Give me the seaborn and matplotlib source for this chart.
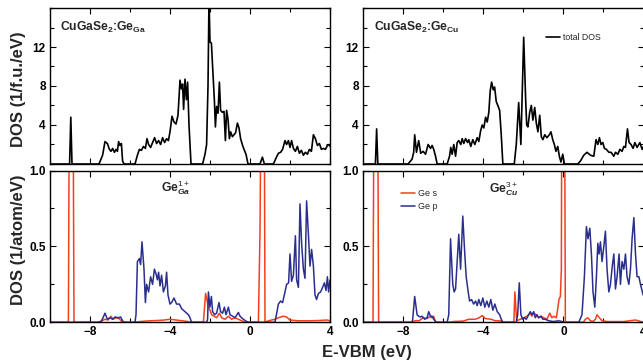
import numpy as np
import pandas as pd
import matplotlib
matplotlib.use("Agg")
import matplotlib.pyplot as plt
from matplotlib.ticker import MultipleLocator, FormatStrFormatter
import seaborn as sns

# total DOS, CuGaSe2:Ge_Ga (1/f.u./eV)
ga_tot_e = [-10.0, -9.02, -8.96, -8.9, -7.55, -7.45, -7.37, -7.25, -7.13, -7.03, -6.95, -6.87, -6.78,
            -6.7, -6.63, -6.57, -6.5, -6.43, -6.37, -6.3, -5.75, -5.63, -5.53, -5.43, -5.33, -5.23,
            -5.15, -5.07, -4.97, -4.87, -4.77, -4.67, -4.57, -4.47, -4.37, -4.27, -4.17, -4.08, -4.0,
            -3.9, -3.8, -3.7, -3.6, -3.5, -3.43, -3.37, -3.32, -3.25, -3.18, -3.12, -3.05, -2.95,
            -2.37, -2.25, -2.17, -2.1, -2.05, -2.0, -1.93, -1.87, -1.78, -1.73, -1.67, -1.6, -1.53,
            -1.47, -1.38, -1.3, -1.23, -1.17, -1.1, -1.03, -0.97, -0.88, -0.8, -0.72, -0.63, -0.55,
            -0.47, -0.37, -0.28, -0.2, -0.1, 0.5, 0.62, 0.72, 1.17, 1.3, 1.42, 1.53, 1.63, 1.75, 1.83,
            1.92, 2.0, 2.08, 2.17, 2.27, 2.37, 2.47, 2.57, 2.67, 2.77, 2.87, 2.97, 3.07, 3.17, 3.27,
            3.37, 3.47, 3.57, 3.67, 3.77, 3.87, 3.97, 4.0]
ga_tot_dos = [0, 0, 4.8, 0, 0, 0.5, 0.9, 2.3, 2.1, 1.5, 1.3, 1.6, 1.2,
              1.5, 1.3, 2.3, 1.9, 2.1, 0.3, 0, 0, 0.9, 1.5, 1.4, 1.8, 1.6,
              2.6, 2.0, 1.7, 2.2, 2.7, 2.1, 2.4, 2.0, 2.7, 2.2, 2.6, 2.4, 3.3,
              4.9, 4.3, 4.1, 5.0, 8.6, 7.7, 8.2, 5.6, 8.7, 6.6, 8.4, 4.0, 0,
              0, 1.0, 2.0, 8.0, 17.0, 12.5, 12.4, 10.0, 6.5, 3.8, 5.9, 5.2, 8.4,
              5.5, 5.3, 5.4, 2.4, 5.5, 4.6, 2.6, 3.3, 2.8, 3.0, 3.2, 4.2, 3.7,
              2.6, 1.9, 1.4, 1.0, 0, 0, 0.7, 0, 0, 0.6, 1.1, 1.2, 1.5, 2.4, 2.0,
              2.4, 1.7, 2.4, 1.6, 1.3, 1.8, 1.1, 1.4, 0.9, 1.2, 1.0, 1.5, 1.3, 3.0, 2.6,
              1.9, 2.1, 1.5, 1.6, 1.5, 1.9, 2.0, 1.8]

# total DOS, CuGaSe2:Ge_Cu (1/f.u./eV)
cu_tot_e = [-10.0, -9.38, -9.32, -9.26, -7.75, -7.55, -7.47, -7.42, -7.33, -7.22, -7.12, -7.0, -6.88,
            -6.75, -6.63, -6.55, -6.47, -6.38, -6.3, -5.8, -5.68, -5.62, -5.55, -5.47, -5.38, -5.3,
            -5.22, -5.12, -5.05, -4.97, -4.88, -4.78, -4.72, -4.62, -4.52, -4.42, -4.3, -4.22, -4.13,
            -4.05, -3.97, -3.88, -3.8, -3.72, -3.65, -3.58, -3.5, -3.43, -3.35, -3.27, -3.18, -3.1,
            -3.02, -2.45, -2.35, -2.23, -2.12, -1.98, -1.88, -1.83, -1.77, -1.68, -1.6, -1.52, -1.43,
            -1.35, -1.27, -1.18, -1.1, -1.02, -0.93, -0.82, -0.7, -0.62, -0.53, -0.45, -0.37, -0.28,
            -0.2, -0.12, -0.03, 0.05, 0.72, 0.85, 1.02, 1.18, 1.35, 1.52, 1.63, 1.72, 1.8, 1.88, 1.97,
            2.05, 2.15, 2.27, 2.38, 2.52, 2.6, 2.72, 2.82, 2.93, 3.02, 3.1, 3.2, 3.28, 3.38, 3.48,
            3.57, 3.68, 3.82, 3.93, 4.0]
cu_tot_dos = [0, 0, 3.6, 0, 0, 0.5, 1.2, 3.0, 1.2, 2.4, 1.1, 1.3, 1.0,
              2.0, 1.6, 1.9, 1.5, 0.8, 0, 0, 0.8, 1.7, 1.0, 2.0, 0.8, 2.2,
              2.4, 2.0, 2.6, 2.1, 2.6, 2.2, 2.5, 1.8, 2.5, 2.0, 2.7, 2.3, 3.4,
              4.0, 3.7, 4.8, 4.3, 5.3, 7.5, 8.4, 7.6, 7.9, 6.4, 6.0, 5.5, 3.0,
              0, 0, 2.0, 6.3, 2.0, 13.0, 6.5, 4.0, 3.8, 5.3, 6.0, 4.5, 5.8,
              4.2, 3.3, 5.0, 2.8, 2.5, 3.0, 2.7, 3.0, 3.3, 2.5, 2.0, 1.3, 1.8,
              0.8, 0.2, 1.0, 0, 0, 0.3, 0.9, 1.2, 0.9, 0.8, 2.5, 2.0, 2.7, 2.0, 2.2,
              1.6, 1.5, 1.2, 1.2, 0.8, 1.2, 1.0, 1.5, 1.3, 1.8, 1.7, 3.6, 2.2, 2.0, 1.6,
              2.2, 1.7, 2.2, 1.5, 1.8]

# Ge s / Ge p projected DOS, Ge_Ga^1+ (1/atom/eV)
ga_s_e = [-10.0, -9.08, -9.02, -8.86, -8.8, -7.6, -7.4, -7.25, -7.1, -6.95, -6.85, -6.7, -6.55,
          -6.45, -6.35, -5.8, -5.5, -5.0, -4.6, -4.3, -4.0, -3.7, -3.4, -3.1, -2.9, -2.33,
          -2.22, -2.08, -2.0, -1.92, -1.8, -1.67, -1.53, -1.42, -1.25, -1.08, -0.92, -0.75, -0.58,
          -0.42, -0.25, 0.42, 0.5, 0.58, 0.7, 0.75, 0.92, 1.25, 1.42, 1.67, 1.83, 2.0, 2.4, 3.0,
          3.5, 3.85, 4.0]
ga_s_dos = [0, 0, 2.0, 2.0, 0, 0, 0.01, 0.02, 0.015, 0.04, 0.02, 0.03, 0.025,
            0.01, 0, 0, 0.005, 0.01, 0.012, 0.015, 0.02, 0.015, 0.01, 0.005, 0, 0,
            0.19, 0.1, 0.08, 0.05, 0.04, 0.03, 0.06, 0.03, 0.02, 0.04, 0.02, 0.03, 0.02,
            0.01, 0, 0, 0.6, 2.0, 2.0, 0, 0.01, 0.02, 0.03, 0.04, 0.035, 0.015, 0.01, 0.01,
            0.012, 0.015, 0.01]
ga_p_e = [-10.0, -7.5, -7.42, -7.25, -7.13, -7.0, -6.87, -6.75, -6.58, -6.47, -6.37, -6.3, -5.75,
          -5.7, -5.63, -5.53, -5.47, -5.4, -5.3, -5.23, -5.17, -5.07, -4.97, -4.87, -4.78, -4.7,
          -4.63, -4.57, -4.5, -4.42, -4.33, -4.23, -4.17, -4.1, -4.0, -3.92, -3.8, -3.67, -3.53,
          -3.42, -3.25, -3.08, -3.0, -2.92, -2.17, -2.12, -2.08, -2.0, -1.93, -1.87, -1.77, -1.67,
          -1.55, -1.47, -1.37, -1.28, -1.2, -1.08, -1.0, -0.87, -0.75, -0.58, -0.5, -0.42, -0.33,
          -0.17, -0.1, 1.25, 1.42, 1.53, 1.63, 1.75, 1.83, 1.93, 2.0, 2.08, 2.17, 2.27, 2.33, 2.42,
          2.5, 2.58, 2.67, 2.75, 2.83, 2.92, 3.0, 3.08, 3.17, 3.25, 3.33, 3.42, 3.53, 3.63, 3.72,
          3.8, 3.87, 3.93, 4.0]
ga_p_dos = [0, 0, 0.01, 0.06, 0.02, 0.03, 0.02, 0.035, 0.03, 0.035, 0.01, 0, 0,
            0.05, 0.4, 0.42, 0.38, 0.53, 0.35, 0.13, 0.25, 0.2, 0.3, 0.25, 0.35, 0.32,
            0.28, 0.33, 0.24, 0.31, 0.2, 0.24, 0.33, 0.18, 0.12, 0.13, 0.16, 0.12, 0.12,
            0.09, 0.07, 0.05, 0.03, 0, 0, 0.02, 0.2, 0.1, 0.17, 0.07, 0.05, 0.06,
            0.13, 0.07, 0.06, 0.1, 0.05, 0.1, 0.05, 0.04, 0.03, 0.065, 0.04, 0.03, 0.02,
            0.005, 0, 0, 0.12, 0.14, 0.13, 0.2, 0.25, 0.26, 0.45, 0.27, 0.31, 0.57, 0.28, 0.23,
            0.78, 0.52, 0.35, 0.29, 0.8, 0.58, 0.37, 0.48, 0.37, 0.18, 0.15, 0.19, 0.2, 0.23, 0.26,
            0.21, 0.3, 0.2, 0.28]

# Ge s / Ge p projected DOS, Ge_Cu^3+ (1/atom/eV)
cu_s_e = [-10.0, -9.5, -9.44, -9.28, -9.22, -7.6, -7.4, -7.2, -7.0, -6.8, -6.7, -6.55, -6.47,
          -6.4, -6.35, -5.8, -5.5, -5.0, -4.72, -4.4, -4.2, -4.05, -3.9, -3.6, -3.4, -3.15, -3.0,
          -2.47, -2.42, -2.33, -2.15, -1.98, -1.82, -1.65, -1.57, -1.48, -1.35, -1.23, -1.12,
          -0.98, -0.82, -0.68, -0.57, -0.48, -0.35, -0.27, -0.22, -0.15, -0.1, -0.07, 0.05, 0.1,
          1.0, 1.1, 1.22, 1.35, 1.48, 1.6, 1.68, 1.8, 1.93, 2.2, 3.0, 3.6, 3.75, 4.0]
cu_s_dos = [0, 0, 2.0, 2.0, 0, 0, 0.01, 0.01, 0.03, 0.025, 0.035, 0.03, 0.04,
            0.01, 0, 0, 0.005, 0.008, 0.02, 0.02, 0.03, 0.045, 0.025, 0.02, 0.01, 0.01, 0,
            0, 0.2, 0.01, 0.02, 0.03, 0.04, 0.06, 0.04, 0.06, 0.05, 0.03, 0.04,
            0.03, 0.02, 0.06, 0.03, 0.04, 0.03, 0.1, 0.15, 0.17, 0.35, 2.0, 2.0, 0,
            0, 0.02, 0.03, 0.01, 0.005, 0.02, 0.05, 0.03, 0.01, 0.005, 0.005, 0.015, 0.01, 0]
cu_p_e = [-10.0, -7.55, -7.52, -7.42, -7.3, -7.22, -7.13, -7.05, -6.92, -6.8, -6.72, -6.63, -6.55,
          -6.47, -6.35, -5.8, -5.72, -5.63, -5.52, -5.45, -5.38, -5.3, -5.22, -5.13, -5.02, -4.92,
          -4.85, -4.75, -4.68, -4.58, -4.48, -4.38, -4.3, -4.22, -4.12, -4.02, -3.92, -3.82, -3.72,
          -3.62, -3.52, -3.42, -3.3, -3.18, -3.1, -3.02, -2.35, -2.28, -2.2, -2.12, -2.03, -1.95,
          -1.85, -1.73, -1.65, -1.57, -1.48, -1.4, -1.32, -1.23, -1.12, -1.02, -0.9, -0.73, -0.5,
          -0.23, -0.07, 0.0, 0.77, 0.93, 1.05, 1.15, 1.23, 1.32, 1.4, 1.48, 1.57, 1.65, 1.72, 1.78,
          1.85, 1.93, 2.02, 2.1, 2.18, 2.27, 2.35, 2.45, 2.52, 2.6, 2.68, 2.78, 2.85, 2.93, 3.02,
          3.1, 3.18, 3.27, 3.35, 3.43, 3.52, 3.6, 3.68, 3.77, 3.85, 3.98]
cu_p_dos = [0, 0, 0.02, 0.17, 0.05, 0.04, 0.035, 0.04, 0.02, 0.03, 0.07, 0.04, 0.04,
            0.02, 0, 0, 0.05, 0.55, 0.25, 0.2, 0.22, 0.4, 0.58, 0.35, 0.7, 0.45,
            0.3, 0.2, 0.14, 0.15, 0.12, 0.14, 0.11, 0.15, 0.11, 0.16, 0.1, 0.14, 0.1,
            0.15, 0.08, 0.12, 0.07, 0.05, 0.02, 0, 0, 0.05, 0.26, 0.05, 0.02, 0.03,
            0.02, 0.05, 0.07, 0.05, 0.07, 0.03, 0.05, 0.03, 0.04, 0.02, 0.02, 0.01, 0.005,
            0.01, 0.005, 0, 0, 0.05, 0.3, 0.63, 0.55, 0.62, 0.45, 0.2, 0.1, 0.3, 0.52, 0.45,
            0.53, 0.4, 0.5, 0.6, 0.35, 0.2, 0.25, 0.38, 0.45, 0.22, 0.3, 0.45, 0.25, 0.4, 0.35,
            0.45, 0.3, 0.25, 0.35, 0.55, 0.69, 0.45, 0.3, 0.3, 0.25, 0.18]

sns.set_style("ticks")
plt.rcParams["font.family"] = ["Liberation Sans", "DejaVu Sans"]
plt.rcParams["mathtext.fontset"] = "custom"
plt.rcParams["mathtext.rm"] = "Liberation Sans"
plt.rcParams["mathtext.bf"] = "Liberation Sans:bold"
plt.rcParams["mathtext.it"] = "Liberation Sans:italic:bold"

RED = "#f2401f"
BLUE = "#2a2f8e"

W, H = 643, 362
fig = plt.figure(figsize=(W / 100, H / 100), dpi=100)


def px_axes(l, t, r, b):
    return fig.add_axes([l / W, 1 - b / H, (r - l) / W, (b - t) / H])


ax_tl = px_axes(50, 8, 330, 164)
ax_bl = px_axes(50, 170.5, 330, 322.3)
ax_tr = px_axes(363, 8, 643.5, 164)
ax_br = px_axes(363, 170.5, 643.5, 322.3)

# total DOS
sns.lineplot(x=ga_tot_e, y=ga_tot_dos, ax=ax_tl, color="black", lw=1.2, estimator=None, sort=False)
sns.lineplot(x=cu_tot_e, y=cu_tot_dos, ax=ax_tr, color="black", lw=1.2, estimator=None, sort=False,
             label="total DOS")

# Ge projected DOS
sns.lineplot(x=ga_s_e, y=ga_s_dos, ax=ax_bl, color=RED, lw=1.1, estimator=None, sort=False)
sns.lineplot(x=ga_p_e, y=ga_p_dos, ax=ax_bl, color=BLUE, lw=1.1, estimator=None, sort=False)
sns.lineplot(x=cu_s_e, y=cu_s_dos, ax=ax_br, color=RED, lw=1.1, estimator=None, sort=False, label="Ge s")
sns.lineplot(x=cu_p_e, y=cu_p_dos, ax=ax_br, color=BLUE, lw=1.1, estimator=None, sort=False, label="Ge p")

for ax in [ax_tl, ax_tr, ax_bl, ax_br]:
    ax.set_xlim(-10, 4)
    ax.xaxis.set_major_locator(MultipleLocator(4))
    ax.xaxis.set_minor_locator(MultipleLocator(2))
    ax.tick_params(which="both", direction="in", top=True, right=True, labelsize=8.5,
                   width=0.8, pad=3, colors="black")
    ax.tick_params(which="major", length=4)
    ax.tick_params(which="minor", length=3)
    for sp in ax.spines.values():
        sp.set_linewidth(1.0)
        sp.set_color("black")
    ax.set_xlabel("")
    ax.set_ylabel("")
    if ax.get_legend() is not None:
        ax.get_legend().remove()

for ax in [ax_tl, ax_tr]:
    ax.set_ylim(0, 16)
    ax.set_yticks([4, 8, 12])
    ax.yaxis.set_minor_locator(MultipleLocator(2))
    ax.tick_params(labelbottom=False)

for ax in [ax_bl, ax_br]:
    ax.set_ylim(0, 1.0)
    ax.set_yticks([0.0, 0.5, 1.0])
    ax.yaxis.set_minor_locator(MultipleLocator(0.25))
    ax.yaxis.set_major_formatter(FormatStrFormatter("%.1f"))

for ax in [ax_tl, ax_tr, ax_bl, ax_br]:
    for lab in ax.get_xticklabels() + ax.get_yticklabels():
        lab.set_fontweight("bold")

# panel texts
ax_tl.text(0.036, 0.852, r"CuGaSe$_\mathbf{2}$:Ge$_\mathbf{Ga}$", transform=ax_tl.transAxes,
           fontsize=8.7, fontweight="bold", va="baseline")
ax_tr.text(0.038, 0.852, r"CuGaSe$_\mathbf{2}$:Ge$_\mathbf{Cu}$", transform=ax_tr.transAxes,
           fontsize=8.7, fontweight="bold", va="baseline")
ax_bl.text(0.396, 0.863, r"$\mathbf{Ge}^{\mathit{1+}}_{\mathit{Ga}}$", transform=ax_bl.transAxes,
           fontsize=8.7, va="baseline")
ax_br.text(0.4475, 0.852, r"$\mathbf{Ge}^{\mathit{3+}}_{\mathit{Cu}}$", transform=ax_br.transAxes,
           fontsize=8.7, va="baseline")

ax_tr.legend(loc="center left", bbox_to_anchor=(0.654, 0.812), frameon=False, fontsize=6.3,
             handlelength=1.5, handletextpad=0.4, borderpad=0, borderaxespad=0)
ax_br.legend(loc="center left", bbox_to_anchor=(0.136, 0.804), frameon=False, fontsize=6.5,
             handlelength=1.55, handletextpad=0.35, labelspacing=0.45, borderpad=0, borderaxespad=0)

fig.text(18.5 / W, 1 - 89.5 / H, "DOS (1/f.u./eV)", rotation=90, ha="center", va="center",
         fontsize=12, fontweight="bold")
fig.text(18.5 / W, 1 - 240 / H, "DOS (1/atom/eV)", rotation=90, ha="center", va="center",
         fontsize=12, fontweight="bold")
fig.text(366.5 / W, 1 - 357 / H, "E-VBM (eV)", ha="center", va="baseline",
         fontsize=12, fontweight="bold")

fig.savefig("out.png", dpi=100, facecolor="white")
